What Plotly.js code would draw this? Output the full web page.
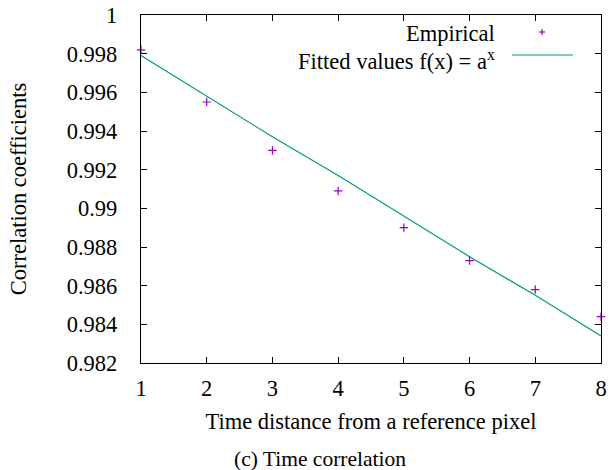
<!DOCTYPE html>
<html>
<head>
<meta charset="utf-8">
<script src="https://cdn.plot.ly/plotly-3.0.1.min.js"></script>
<style>html,body{margin:0;padding:0;background:#fff;}#chart{width:610px;height:470px;}</style>
</head>
<body>
<div id="chart"></div>
<script>
// Data
var distances = [1, 2, 3, 4, 5, 6, 7, 8];
var empirical = [0.9982, 0.9955, 0.9930, 0.9909, 0.9890, 0.9873, 0.9858, 0.9844];
var fitted = [0.9979, 0.9958, 0.9937, 0.9917, 0.9896, 0.9875, 0.9855, 0.9834];
var yTickVals = [0.982, 0.984, 0.986, 0.988, 0.99, 0.992, 0.994, 0.996, 0.998, 1];
var yTickText = ['0.982', '0.984', '0.986', '0.988', '0.99', '0.992', '0.994', '0.996', '0.998', '1'];
var xTickVals = [1, 2, 3, 4, 5, 6, 7, 8];
var xTickText = ['1', '2', '3', '4', '5', '6', '7', '8'];

var FONT = 'Liberation Serif, Times New Roman, serif';
var PURPLE = '#9400d3';
var GREEN = '#009e73';
var FS = 22.5;

var traces = [
  {
    x: distances, y: fitted, type: 'scatter', mode: 'lines',
    name: 'Fitted values f(x) = a<sup>x</sup>',
    line: {color: GREEN, width: 1.2},
    showlegend: false, cliponaxis: false
  },
  {
    x: distances, y: empirical, type: 'scatter', mode: 'markers',
    name: 'Empirical',
    marker: {symbol: 'cross-thin-open', size: 6, color: PURPLE, line: {color: PURPLE, width: 1.2}},
    showlegend: false, cliponaxis: false
  }
];

var axisCommon = {
  showgrid: false, zeroline: false, showline: true, linecolor: '#000', linewidth: 1.2,
  mirror: 'ticks', ticks: 'inside', ticklen: 6, tickwidth: 1, tickcolor: '#000',
  tickfont: {family: FONT, size: FS, color: '#000'}, tickmode: 'array'
};

var layout = {
  width: 610, height: 470,
  margin: {l: 141, r: 9, t: 15, b: 107},
  paper_bgcolor: '#fff', plot_bgcolor: '#fff',
  font: {family: FONT, size: FS, color: '#000'},
  title: {
    text: '(c) Time correlation',
    font: {family: FONT, size: 21.5, color: '#000'},
    x: 320 / 610, xanchor: 'center', xref: 'container',
    y: (470 - 458) / 470, yanchor: 'middle', yref: 'container'
  },
  xaxis: Object.assign({}, axisCommon, {
    range: [1, 8], tickvals: xTickVals, ticktext: xTickText, ticklabelstandoff: 5,
    title: {text: 'Time distance from a reference pixel', font: {family: FONT, size: FS, color: '#000'}, standoff: 13}
  }),
  yaxis: Object.assign({}, axisCommon, {
    range: [0.982, 1], tickvals: yTickVals, ticktext: yTickText, ticklabelstandoff: 18,
    title: {text: 'Correlation coefficients', font: {family: FONT, size: FS, color: '#000'}, standoff: 33}
  }),
  annotations: [
    {text: 'Empirical', xref: 'paper', yref: 'paper', x: (497 - 141) / 460, y: (363 - 33) / 348,
     xanchor: 'right', yanchor: 'middle', showarrow: false, font: {family: FONT, size: FS, color: '#000'}},
    {text: 'Fitted values f(x) = a<sup>x</sup>', xref: 'paper', yref: 'paper', x: (497 - 141) / 460, y: (363 - 60) / 348,
     xanchor: 'right', yanchor: 'middle', showarrow: false, font: {family: FONT, size: FS, color: '#000'}}
  ],
  shapes: [
    {type: 'line', xref: 'paper', yref: 'paper', x0: (512 - 141) / 460, x1: (573 - 141) / 460,
     y0: (363 - 55) / 348, y1: (363 - 55) / 348, line: {color: GREEN, width: 1.2}},
    {type: 'line', xref: 'paper', yref: 'paper', x0: (539 - 141) / 460, x1: (545 - 141) / 460,
     y0: (363 - 32) / 348, y1: (363 - 32) / 348, line: {color: PURPLE, width: 1.2}},
    {type: 'line', xref: 'paper', yref: 'paper', x0: (542 - 141) / 460, x1: (542 - 141) / 460,
     y0: (363 - 35) / 348, y1: (363 - 29) / 348, line: {color: PURPLE, width: 1.2}}
  ]
};

Plotly.newPlot('chart', traces, layout, {staticPlot: true, displayModeBar: false});
</script>
</body>
</html>
